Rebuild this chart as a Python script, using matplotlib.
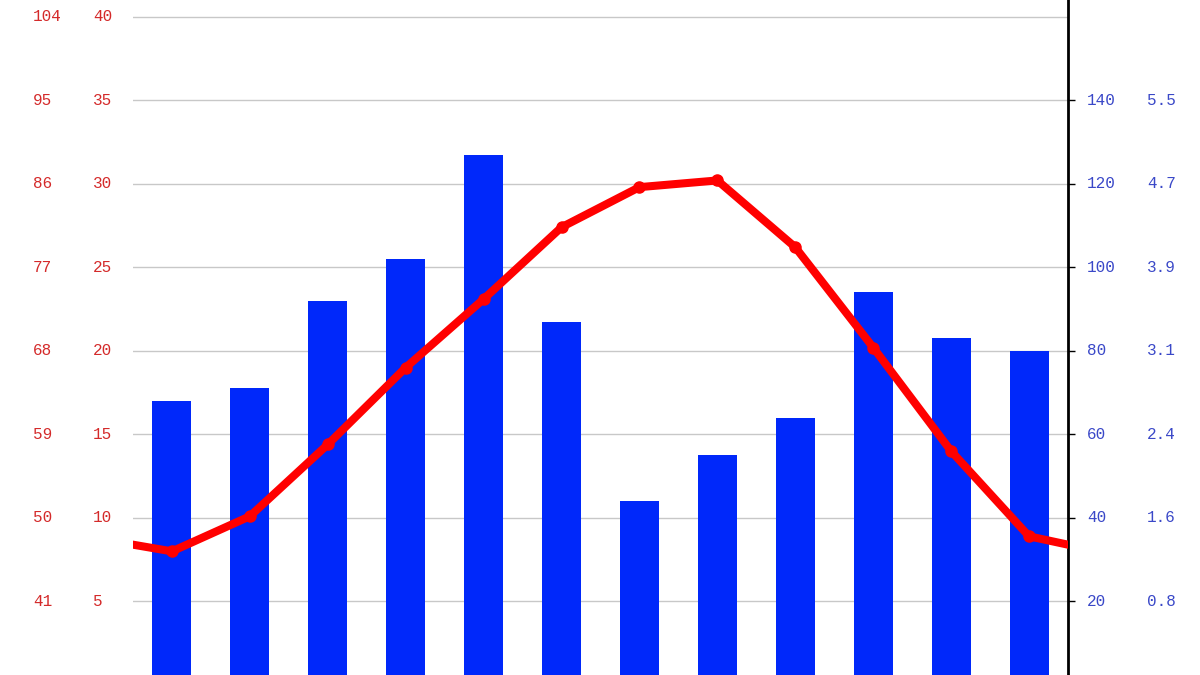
import matplotlib

matplotlib.use("Agg")
import matplotlib.pyplot as plt
import matplotlib.transforms as mtransforms
import numpy as np

# monthly values
months = ["Jan", "Feb", "Mar", "Apr", "May", "Jun", "Jul", "Aug", "Sep", "Oct", "Nov", "Dec"]
temp_c = [8.0, 10.1, 14.4, 19.0, 23.1, 27.4, 29.8, 30.2, 26.2, 20.2, 14.0, 8.9]
precip_mm = [68, 71, 92, 102, 127, 87, 44, 55, 64, 94, 83, 80]
edge_temp_c = 8.4  # where the line meets the plot edges

# axis labels
c_ticks = [40, 35, 30, 25, 20, 15, 10, 5]
f_labels = ["104", "95", "86", "77", "68", "59", "50", "41"]
mm_ticks = [140, 120, 100, 80, 60, 40, 20]
in_labels = ["5.5", "4.7", "3.9", "3.1", "2.4", "1.6", "0.8"]
grid_mm = [20, 40, 60, 80, 100, 120, 140, 160]

RED_TEXT = "#d42a2a"
BLUE_TEXT = "#3a48c8"
BAR_BLUE = "#0028fa"
LINE_RED = "#ff0000"
FONT = "Liberation Mono"

fig = plt.figure(figsize=(12, 6.75), dpi=100)
ax_p = fig.add_axes([133 / 1200, 0, (1068 - 133) / 1200, 1])
ax = ax_p.twinx()

c_lo, c_hi = 0.6, 41.0
ax.set_ylim(c_lo, c_hi)
ax_p.set_ylim(c_lo * 4, c_hi * 4)
ax.set_xlim(0, 12)
ax_p.set_xlim(0, 12)

x = np.arange(len(months)) + 0.5
ax_p.bar(x, precip_mm, width=0.5, color=BAR_BLUE, zorder=2)
ax_p.set_yticks(grid_mm)
ax_p.yaxis.grid(True, color="#c8c8c8", lw=1.0, zorder=0)
ax_p.set_axisbelow(True)
ax_p.yaxis.set_ticks_position("right")
ax_p.tick_params(axis="y", left=False, right=True, labelleft=False, labelright=False,
                 direction="out", length=5, width=1, color="black")
ax_p.yaxis.get_major_ticks()[-1].tick2line.set_visible(False)
ax_p.set_xticks([])

ax.set_zorder(ax_p.get_zorder() + 1)
ax.patch.set_visible(False)
line_x = np.concatenate([[0], x, [12]])
line_y = [edge_temp_c] + temp_c + [edge_temp_c]
ax.plot(line_x, line_y, color=LINE_RED, lw=5.8, solid_joinstyle="round", zorder=3)
ax.plot(x, temp_c, "o", color=LINE_RED, ms=8, zorder=4)
ax.set_yticks([])
ax.set_xticks([])

for a in (ax, ax_p):
    for side in ("left", "top", "bottom", "right"):
        a.spines[side].set_visible(False)
ax_p.spines["right"].set_visible(True)
ax_p.spines["right"].set_color("black")
ax_p.spines["right"].set_linewidth(2)

trans_c = mtransforms.blended_transform_factory(fig.transFigure, ax.transData)
for c, f in zip(c_ticks, f_labels):
    ax.text(33 / 1200, c, f, transform=trans_c, color=RED_TEXT, fontsize=11.5,
            family=FONT, ha="left", va="center")
    ax.text(93 / 1200, c, str(c), transform=trans_c, color=RED_TEXT, fontsize=11.5,
            family=FONT, ha="left", va="center")

trans_mm = mtransforms.blended_transform_factory(fig.transFigure, ax_p.transData)
for mm, inch in zip(mm_ticks, in_labels):
    ax_p.text(1087 / 1200, mm, str(mm), transform=trans_mm, color=BLUE_TEXT, fontsize=11.5,
              family=FONT, ha="left", va="center")
    ax_p.text(1147 / 1200, mm, inch, transform=trans_mm, color=BLUE_TEXT, fontsize=11.5,
              family=FONT, ha="left", va="center")

fig.savefig("out.png", dpi=100)
